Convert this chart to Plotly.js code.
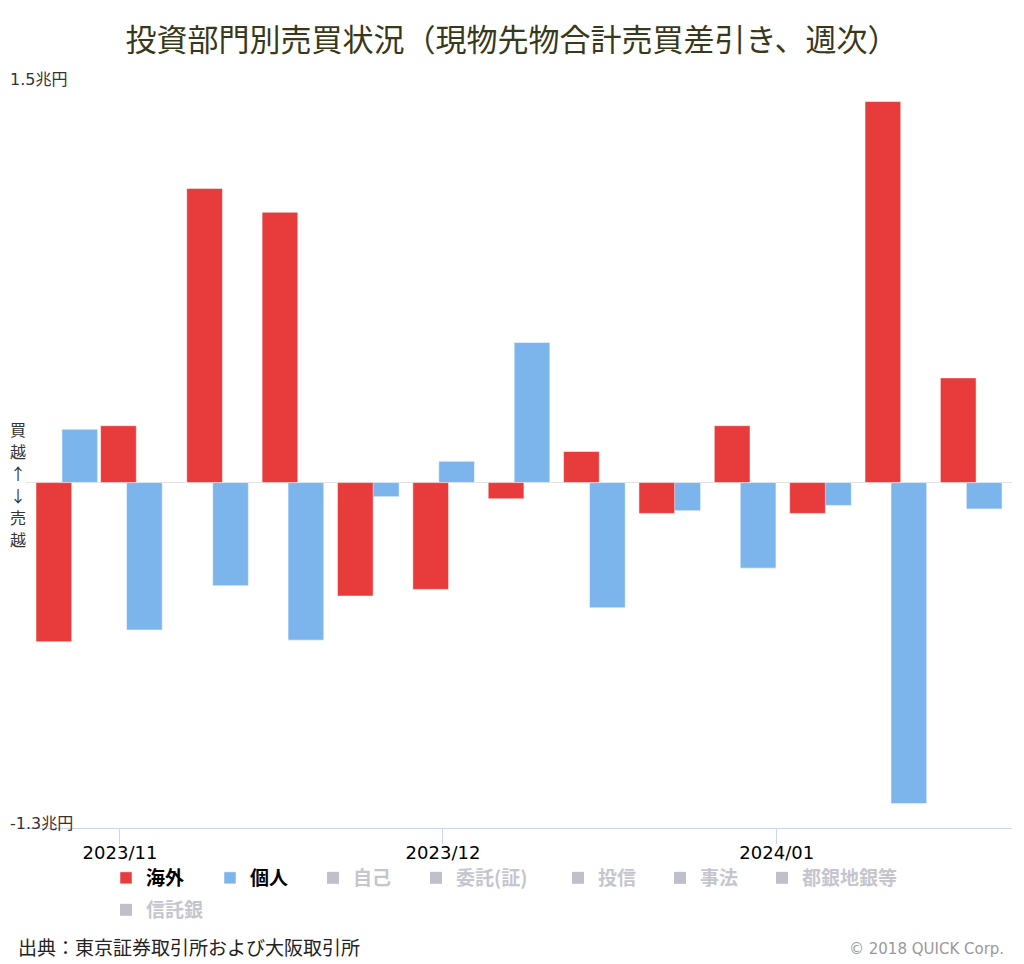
<!DOCTYPE html>
<html>
<head>
<meta charset="utf-8">
<script src="https://cdn.plot.ly/plotly-3.0.1.min.js"></script>
<style>
  html, body { margin: 0; padding: 0; background: #ffffff; }
  #chart { width: 1024px; height: 964px; }
</style>
</head>
<body>
<div id="chart"></div>
<script>
// Week-ending dates
const weeks = ['2023-10-27','2023-11-02','2023-11-10','2023-11-17','2023-11-24','2023-12-01','2023-12-08',
               '2023-12-15','2023-12-22','2023-12-29','2024-01-05','2024-01-12','2024-01-19'];
// 海外 (foreign investors), 兆円
const kaigai = [-0.599, 0.214, 1.107, 1.017, -0.427, -0.402, -0.061, 0.117, -0.116, 0.214, -0.116, 1.434, 0.394];
// 個人 (individuals), 兆円
const kojin  = [0.201, -0.555, -0.388, -0.593, -0.053, 0.080, 0.527, -0.471, -0.106, -0.322, -0.086, -1.208, -0.099];
// Hidden series (not shown in the reference; values unknown)
const hiddenValues = [null, null, null, null, null, null, null, null, null, null, null, null, null];
const hiddenNames = ['自己', '委託(証)', '投信', '事法', '都銀地銀等', '信託銀'];
const yTickVals = [-1.3, 1.5];
const yTickText = ['-1.3兆円', '1.5兆円'];
const yLabelChars = ['買', '越', '↑', '↓', '売', '越'];
const titleText = '投資部門別売買状況（現物先物合計売買差引き、週次）';
const sourceText = '出典：東京証券取引所および大阪取引所';
const creditText = '© 2018 QUICK Corp.';

const DAY = 86400000;
const barWidth = 3.316 * DAY;
const redOffset = -2.80 * DAY;
const blueOffset = -0.39 * DAY;
const JP = '"Noto Sans CJK JP", "Noto Sans", sans-serif';
const MIX = '"DejaVu Sans", "Noto Sans CJK JP", sans-serif';

// legend item placement (pixels): one legend per entry to mimic the reference's spacing
const legendSlots = [[106, 859], [210, 859], [313, 859], [416, 859], [558, 859], [660, 859], [762, 859], [106, 891]];
const legendIds = legendSlots.map((s, i) => i === 0 ? 'legend' : 'legend' + (i + 1));

const traces = [
  {
    type: 'bar', name: '個人', x: weeks, y: kojin,
    offset: blueOffset, width: barWidth,
    marker: {color: '#7cb5ec', opacity: 1, line: {color: 'rgba(255,255,255,0.5)', width: 1}},
    legend: legendIds[1], hoverinfo: 'x+y'
  },
  {
    type: 'bar', name: '海外', x: weeks, y: kaigai,
    offset: redOffset, width: barWidth,
    marker: {color: '#e73b3c', opacity: 1, line: {color: 'rgba(255,255,255,0.5)', width: 1}},
    legend: legendIds[0], hoverinfo: 'x+y'
  }
];
hiddenNames.forEach((nm, i) => {
  traces.push({
    type: 'bar', name: '<span style="color:#8d8d9f">' + nm + '</span>',
    x: weeks, y: hiddenValues, visible: 'legendonly',
    marker: {color: '#828299'},
    legend: legendIds[2 + i]
  });
});

const PW = 1024 - 26 - 12, PH = 964 - 84 - 136;
const px = v => (v - 26) / PW;
const py = v => (828 - v) / PH;

const layout = {
  width: 1024, height: 964,
  margin: {l: 26, r: 12, t: 84, b: 136},
  paper_bgcolor: '#ffffff', plot_bgcolor: '#ffffff',
  barmode: 'overlay',
  showlegend: true,
  title: {
    text: titleText,
    font: {family: JP, size: 31, color: '#38381a'},
    x: 0.5, xanchor: 'center', xref: 'container',
    y: 0.958, yanchor: 'middle', yref: 'container'
  },
  xaxis: {
    type: 'date',
    range: ['2023-10-23 06:30', '2024-01-22 20:24'],
    tick0: '2023-11-01', dtick: 'M1', tickformat: '%Y/%m',
    ticks: 'outside', ticklen: 15, tickwidth: 1, tickcolor: '#ccd6eb',
    ticklabelstandoff: -7,
    showline: true, linecolor: '#ccd6eb', linewidth: 1,
    showgrid: false, zeroline: false,
    tickfont: {family: MIX, size: 18, color: '#000'},
    fixedrange: true
  },
  yaxis: {
    range: [-1.3, 1.5],
    tickvals: yTickVals, ticktext: yTickText,
    ticks: '', showline: false,
    showgrid: true, gridcolor: '#e6e6e6', gridwidth: 1,
    zeroline: true, zerolinecolor: '#e2e2e2', zerolinewidth: 1,
    ticklabelposition: 'inside', ticklabeloverflow: 'allow',
    ticklabelstandoff: -19, ticklabelshift: -5,
    tickfont: {family: MIX, size: 16, color: '#333'},
    fixedrange: true
  },
  annotations: [
    {text: sourceText, xref: 'paper', yref: 'paper', x: px(16), y: py(946),
     xanchor: 'left', yanchor: 'middle', showarrow: false,
     font: {family: JP, size: 19, color: '#222'}},
    {text: creditText, xref: 'paper', yref: 'paper', x: px(1006), y: py(949),
     xanchor: 'right', yanchor: 'middle', showarrow: false,
     font: {family: MIX, size: 15, color: '#999'}}
  ]
};

legendSlots.forEach((s, i) => {
  layout[legendIds[i]] = {
    orientation: 'h', xref: 'container', yref: 'container',
    x: s[0] / 1024, y: 1 - s[1] / 964,
    xanchor: 'left', yanchor: 'top',
    font: {family: JP, size: 19, color: '#000', weight: 'bold'},
    itemwidth: 30, bgcolor: 'rgba(0,0,0,0)', borderwidth: 0,
    itemclick: false, itemdoubleclick: false
  };
});

// vertical "買越↑↓売越" label, one character per line
yLabelChars.forEach((ch, i) => {
  layout.annotations.push({
    text: ch, xref: 'paper', yref: 'y', x: 0, y: 0,
    xanchor: 'center', yanchor: 'middle', xshift: -8,
    yshift: 54 - i * 22, showarrow: false,
    font: {family: JP, size: 16, color: '#333'}
  });
});

Plotly.newPlot('chart', traces, layout, {displayModeBar: false, staticPlot: false});
</script>
</body>
</html>
